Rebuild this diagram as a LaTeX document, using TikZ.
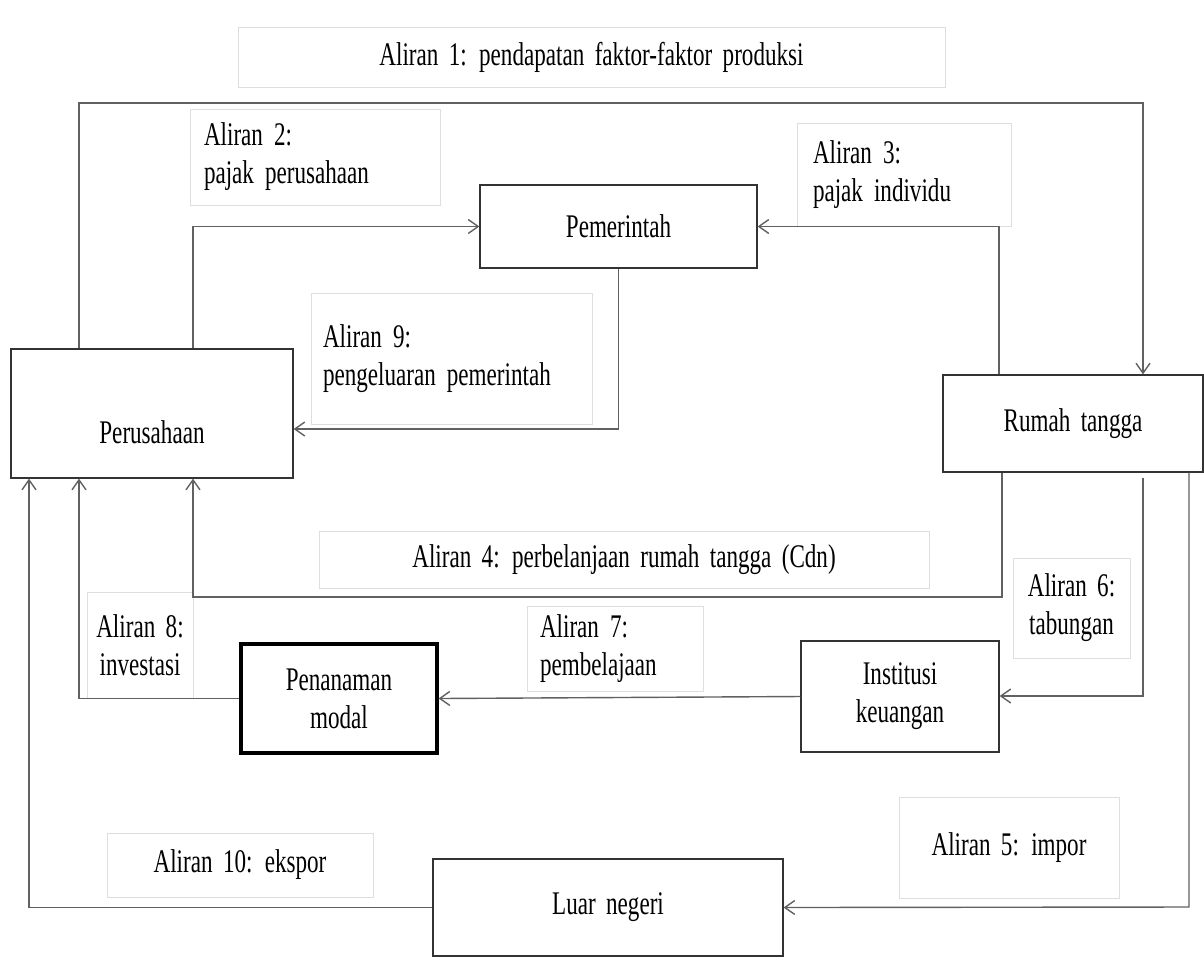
\documentclass[tikz,border=0pt]{standalone}
\usepackage{fontspec}
\setmainfont{Liberation Serif}[FakeStretch=0.70, WordSpace=1.8]
\usetikzlibrary{arrows.meta}
\begin{document}
\begin{tikzpicture}[x=0.5pt,y=-0.5pt,
  every node/.style={font=\fontsize{16.5}{19}\selectfont, inner sep=0pt},
  mainbox/.style={draw=black!80, line width=0.6pt, align=center},
  lbl/.style={draw=black!13, line width=0.5pt, align=center},
  lblL/.style={draw=black!13, line width=0.5pt, align=left},
  conn/.style={draw=black!62, line width=0.7pt},
  arr/.style={conn, -{Straight Barb[length=5pt,width=7pt]}}]
\useasboundingbox (0,0) rectangle (1204,960);
% label boxes
\node[lbl, minimum width=353.5pt, minimum height=30pt] (l1) at (591.5,57) {Aliran 1: pendapatan faktor-faktor produksi};
\node[lblL, text width=111pt, inner xsep=7pt, minimum height=48pt] (l2) at (315,157) {Aliran 2:\\pajak perusahaan};
\node[lblL, text width=91pt, inner xsep=8pt, minimum height=51.5pt] (l3) at (904,174.5) {Aliran 3:\\pajak individu};
\node[lblL, text width=128.5pt, inner xsep=6pt, minimum height=65.5pt] (l9) at (451.5,358.5) {Aliran 9:\\pengeluaran pemerintah};
\node[lbl, minimum width=305pt, minimum height=28.5pt] (l4) at (624,559.5) {Aliran 4: perbelanjaan rumah tangga (Cdn)};
\node[lbl, minimum width=58.5pt, minimum height=50pt] (l6) at (1071.5,608) {Aliran 6:\\tabungan};
\node[lblL, text width=75pt, inner xsep=6.5pt, minimum height=42.5pt] (l7) at (615,648.5) {Aliran 7:\\pembelajaan};
\node[lbl, minimum width=53pt, minimum height=53pt] (l8) at (140,645) {Aliran 8:\\investasi};
\node[lbl, minimum width=110pt, minimum height=50.5pt] (l5) at (1009,847.5) {Aliran 5: impor};
\node[lbl, minimum width=133pt, minimum height=32pt] (l10) at (240,865) {Aliran 10: ekspor};
% main boxes
\node[mainbox, minimum width=138.5pt, minimum height=41.5pt] (pem) at (618.5,226.5) {Pemerintah};
\node[mainbox, minimum width=141pt, minimum height=64.5pt] (per) at (152,413.5) {};
\node (perT) at (152,432) {Perusahaan};
\node[mainbox, minimum width=130pt, minimum height=48.5pt] (rt) at (1073,423.5) {Rumah tangga};
\node[mainbox, minimum width=99pt, minimum height=55.5pt] (ik) at (900,696.5) {Institusi\\keuangan};
\node[mainbox, draw=black, line width=1.6pt, minimum width=98pt, minimum height=54.5pt] (pm) at (339,698.5) {Penanaman\\modal};
\node[mainbox, minimum width=175pt, minimum height=48.5pt] (ln) at (608,907.5) {Luar negeri};
% corner coordinates
\coordinate (k1a) at (79,103);
\coordinate (k1b) at (1143,103);
\coordinate (k2) at (193,227);
\coordinate (k3) at (999,227);
\coordinate (k9) at (618,429);
\coordinate (k4a) at (1002,597);
\coordinate (k4b) at (193,597);
\coordinate (k6) at (1143,696);
\coordinate (k5) at (1189,907);
\coordinate (k8) at (79,700);
\coordinate (k10) at (29,908);
% connectors
\draw[arr] (k1a |- per.north) -- (k1a) -- (k1b) -- (k1b |- rt.north);
\draw[arr] (k2 |- per.north) -- (k2 |- pem.west) -- (pem.west);
\draw[arr] (k3 |- rt.north) -- (k3 |- pem.east) -- (pem.east);
\draw[arr] (pem.south) -- (pem.south |- k9) -- (per.east |- k9);
\draw[arr] (k4a |- rt.south) -- (k4a) -- (k4b) -- (k4b |- per.south);
\draw[arr] ([yshift=-2.5pt]k6 |- rt.south) -- (k6) -- (ik.east |- k6);
\draw[arr] (k5 |- rt.south) -- (k5) -- (ln.east);
\draw[arr] (ik.west) -- (pm.east);
\draw[arr] (pm.west) -- (k8 |- pm.west) -- (k8 |- per.south);
\draw[arr] (ln.west) -- (k10 |- ln.west) -- (k10 |- per.south);
\end{tikzpicture}
\end{document}
